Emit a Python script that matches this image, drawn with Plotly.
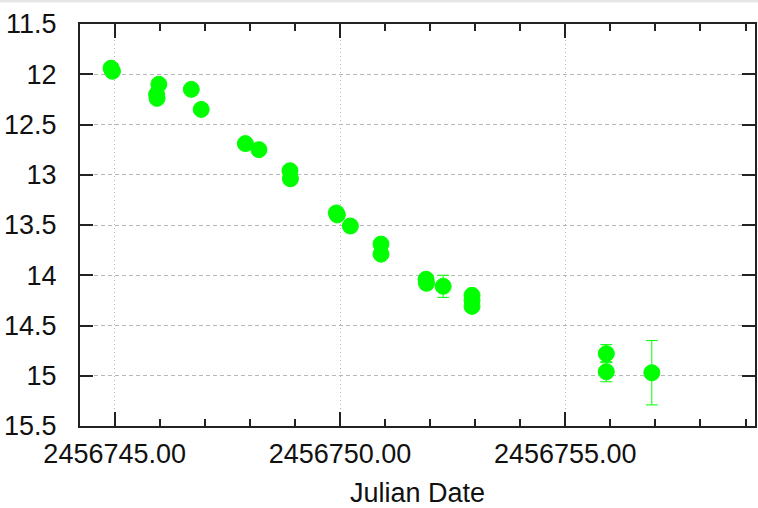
import plotly.graph_objects as go

# Julian dates, magnitudes and errors
jd = [2456744.92, 2456744.95,
      2456745.98, 2456745.93, 2456745.94,
      2456746.70, 2456746.92,
      2456747.90, 2456748.20,
      2456748.89, 2456748.90,
      2456749.92, 2456749.94,
      2456750.23,
      2456750.91, 2456750.91,
      2456751.91, 2456751.92,
      2456752.29,
      2456752.93, 2456752.93, 2456752.93,
      2456755.91, 2456755.91,
      2456756.92]
mag = [11.94, 11.97,
       12.10, 12.20, 12.24,
       12.15, 12.35,
       12.69, 12.75,
       12.96, 13.04,
       13.38, 13.40,
       13.51,
       13.69, 13.79,
       14.04, 14.08,
       14.11,
       14.20, 14.25, 14.31,
       14.78, 14.96,
       14.97]
err = [0.02, 0.02,
       0.03, 0.02, 0.02,
       0.03, 0.02,
       0.02, 0.02,
       0.03, 0.03,
       0.02, 0.02,
       0.03,
       0.04, 0.03,
       0.03, 0.03,
       0.11,
       0.04, 0.03, 0.03,
       0.09, 0.10,
       0.32]

x_ticks = [2456745, 2456750, 2456755]
y_ticks = [11.5, 12, 12.5, 13, 13.5, 14, 14.5, 15, 15.5]

green = "#00ff00"
font_family = "Liberation Sans, Arial, Helvetica, sans-serif"

fig = go.Figure()
fig.add_trace(go.Scatter(
    x=jd, y=mag, mode="markers",
    marker=dict(color=green, size=16, line=dict(color=green, width=1)),
    error_y=dict(type="data", array=err, visible=True, color=green,
                 thickness=1, width=6),
    showlegend=False,
))

axis_common = dict(
    showline=True, linecolor="#222222", linewidth=2, mirror="allticks",
    ticks="inside", tickcolor="#222222", tickwidth=2,
    tickfont=dict(family=font_family, size=27, color="#111111"),
    showgrid=True, gridcolor="#b8b8b8", gridwidth=1,
    zeroline=False,
)

fig.update_xaxes(
    **axis_common,
    range=[2456744.23, 2456759.21],
    tickvals=x_ticks, tickformat=".2f", ticklen=14,
    griddash="1px,3px",
    minor=dict(dtick=1, ticklen=7, ticks="inside", tickcolor="#222222",
               tickwidth=2, showgrid=False, tick0=2456745),
    ticklabelstandoff=3,
    title=dict(text="Julian Date", font=dict(family=font_family, size=27,
                                             color="#111111"), standoff=15),
)
fig.update_yaxes(
    **axis_common,
    range=[15.5, 11.5],
    tickvals=y_ticks, ticktext=[f"{v:g}" for v in y_ticks], ticklen=13,
    griddash="4px,3px",
    ticklabelstandoff=16,
)

fig.add_shape(type="rect", xref="paper", yref="paper",
              x0=-0.2, x1=1.2, y0=1 + 21.5 / 402.5, y1=1 + 24 / 402.5,
              fillcolor="#e6e6e6", line=dict(width=0), layer="below")

fig.update_layout(
    width=758, height=508,
    margin=dict(l=80, r=1, t=24, b=82),
    plot_bgcolor="white", paper_bgcolor="white",
)

fig.write_html("out.html")
